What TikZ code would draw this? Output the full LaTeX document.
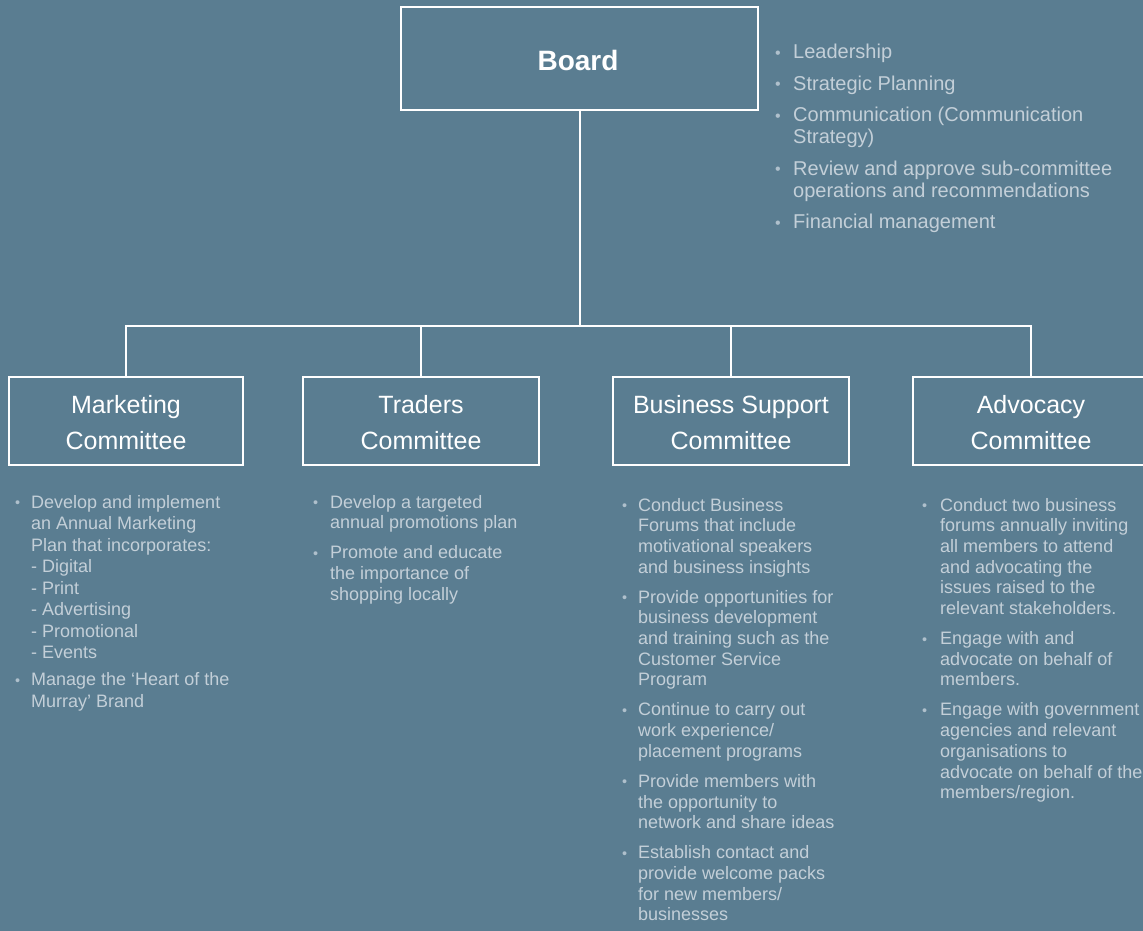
\documentclass[tikz,border=0pt]{standalone}
\usepackage{fontspec}
\setmainfont{Liberation Sans}
\definecolor{bg}{HTML}{5A7D91}
\definecolor{bul}{HTML}{C3CFD8}
\definecolor{dot}{HTML}{AFC0CC}
\newcommand\bi[1]{\makebox[#1][l]{\color{dot}\raisebox{0.5pt}{\scalebox{0.8}{\textbullet}}}}
\newcommand\ind[1]{\hspace*{#1}}
\begin{document}
\begin{tikzpicture}[x=1pt,y=-1pt,
  box/.style={draw=white,line width=2.2pt,inner sep=0},
  boxtxt/.style={anchor=base,text=white,inner sep=0,font=\fontsize{25}{36}\selectfont},
  lst/.style={anchor=base west,text=bul,inner sep=0},
  link/.style={draw=white,line width=2pt}]
\fill[bg] (0,0) rectangle (1143,931);
\useasboundingbox (0,0) rectangle (1143,931);

% Board
\node[box,minimum width=357pt,minimum height=103pt] (board) at (579.5,58.5) {};
\node[anchor=base,text=white,inner sep=0,font=\fontsize{28}{30}\selectfont\bfseries] (boardt) at (578,71) {Board};

% Board list
\node[lst] (boardl) at (775,59) {\parbox[t]{360pt}{\fontsize{20}{22}\selectfont\raggedright
\bi{18pt}Leadership\\[9.5pt]
\bi{18pt}Strategic Planning\\[9.5pt]
\bi{18pt}Communication (Communication\\
\ind{18pt}Strategy)\\[9.5pt]
\bi{18pt}Review and approve sub-committee\\
\ind{18pt}operations and recommendations\\[9.5pt]
\bi{18pt}Financial management}};

% Committee boxes
\node[box,minimum width=234pt,minimum height=88pt] (mkt) at (126,421) {};
\node[box,minimum width=236pt,minimum height=88pt] (trd) at (421,421) {};
\node[box,minimum width=236pt,minimum height=88pt] (bsc) at (731,421) {};
\node[box,minimum width=236pt,minimum height=88pt] (adv) at (1031,421) {};

\node[boxtxt] (mktt) at (126,413) {\parbox[t]{230pt}{\centering Marketing\\Committee}};
\node[boxtxt] (trdt) at (421,413) {\parbox[t]{230pt}{\centering Traders\\Committee}};
\node[boxtxt] (bsct) at (731,413) {\parbox[t]{230pt}{\centering Business Support\\Committee}};
\node[boxtxt] (advt) at (1031,413) {\parbox[t]{230pt}{\centering Advocacy\\Committee}};

% Connectors
\coordinate (j) at (579.5,326);
\draw[link] (board.south) -- (j);
\draw[link] (mkt.north) -- (mkt.north |- j) -- (adv.north |- j) -- (adv.north);
\draw[link] (trd.north) -- (trd.north |- j);
\draw[link] (bsc.north) -- (bsc.north |- j);

% Marketing list
\node[lst] (mktl) at (15,508) {\parbox[t]{270pt}{\fontsize{18}{21.5}\selectfont\raggedright
\bi{16pt}Develop and implement\\
\ind{16pt}an Annual Marketing\\
\ind{16pt}Plan that incorporates:\\
\ind{16pt}- Digital\\
\ind{16pt}- Print\\
\ind{16pt}- Advertising\\
\ind{16pt}- Promotional\\
\ind{16pt}- Events\\[5.5pt]
\bi{16pt}Manage the `Heart of the\\
\ind{16pt}Murray' Brand}};

% Traders list
\node[lst] (trdl) at (313,508) {\parbox[t]{270pt}{\fontsize{18}{20.7}\selectfont\raggedright
\bi{17pt}Develop a targeted\\
\ind{17pt}annual promotions plan\\[9.3pt]
\bi{17pt}Promote and educate\\
\ind{17pt}the importance of\\
\ind{17pt}shopping locally}};

% Business support list
\node[lst] (bscl) at (622,511) {\parbox[t]{270pt}{\fontsize{18}{20.7}\selectfont\raggedright
\bi{16pt}Conduct Business\\
\ind{16pt}Forums that include\\
\ind{16pt}motivational speakers\\
\ind{16pt}and business insights\\[9.3pt]
\bi{16pt}Provide opportunities for\\
\ind{16pt}business development\\
\ind{16pt}and training such as the\\
\ind{16pt}Customer Service\\
\ind{16pt}Program\\[9.3pt]
\bi{16pt}Continue to carry out\\
\ind{16pt}work experience/\\
\ind{16pt}placement programs\\[9.3pt]
\bi{16pt}Provide members with\\
\ind{16pt}the opportunity to\\
\ind{16pt}network and share ideas\\[9.3pt]
\bi{16pt}Establish contact and\\
\ind{16pt}provide welcome packs\\
\ind{16pt}for new members/\\
\ind{16pt}businesses}};

% Advocacy list
\node[lst] (advl) at (922,511) {\parbox[t]{270pt}{\fontsize{18}{20.7}\selectfont\raggedright
\bi{18pt}Conduct two business\\
\ind{18pt}forums annually inviting\\
\ind{18pt}all members to attend\\
\ind{18pt}and advocating the\\
\ind{18pt}issues raised to the\\
\ind{18pt}relevant stakeholders.\\[9.3pt]
\bi{18pt}Engage with and\\
\ind{18pt}advocate on behalf of\\
\ind{18pt}members.\\[9.3pt]
\bi{18pt}Engage with government\\
\ind{18pt}agencies and relevant\\
\ind{18pt}organisations to\\
\ind{18pt}advocate on behalf of the\\
\ind{18pt}members/region.}};
\end{tikzpicture}
\end{document}
